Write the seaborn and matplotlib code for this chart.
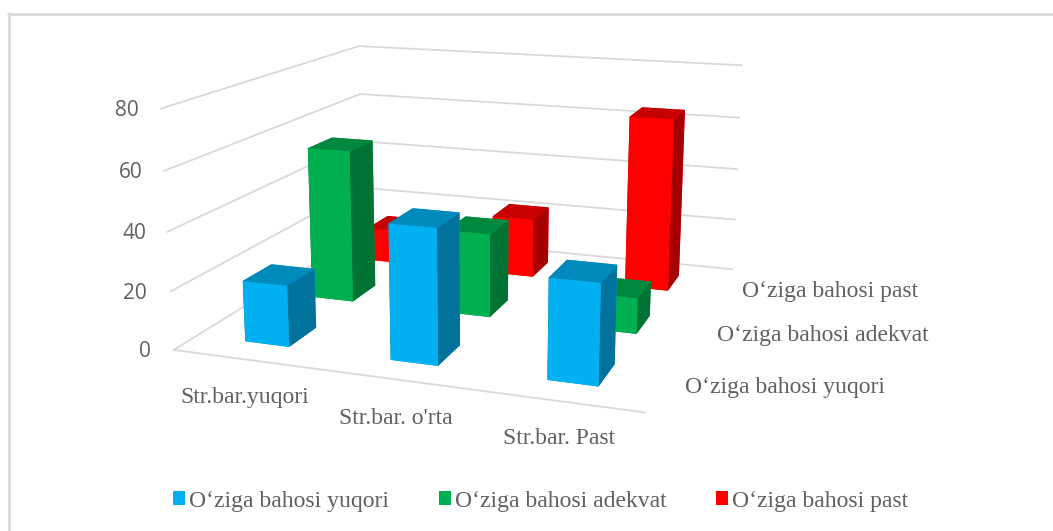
import numpy as np
import matplotlib
matplotlib.use('Agg')
import matplotlib.pyplot as plt
from matplotlib.colors import to_rgb
from matplotlib.lines import Line2D
from matplotlib.patches import Patch
import seaborn as sns

categories = ["Str.bar.yuqori", "Str.bar. o'rta", "Str.bar. Past"]
series = ["O‘ziga bahosi yuqori", "O‘ziga bahosi adekvat", "O‘ziga bahosi past"]
yuqori = [21, 45.3, 33]
adekvat = [55.5, 30, 12.5]
past = [13, 22.5, 64.5]
z_ticks = [0, 20, 40, 60, 80]
colors = ['#00B0F0', '#00B050', '#FF0000']

sns.set_theme(style="white")
grid_color = '#D9D9D9'
text_color = '#606060'
serif = 'Liberation Serif'

W, H = 1053, 531
fig = plt.figure(figsize=(W / 100, H / 100), dpi=100)

# camera values fitted to the corners of the floor and walls
ax = fig.add_axes([147.6 / W, 3.3 / H, 642.6 / W, 642.6 / H], projection='3d', computed_zorder=False)
ax.set_xlim(0, 3)
ax.set_ylim(0, 3)
ax.set_zlim(0, 80)
ax.view_init(elev=14.01, azim=-70.53)
ax.set_proj_type('persp', focal_length=0.4038)
ax.set_box_aspect((1, 0.964, 0.5089))
ax.set_xticks([])
ax.set_yticks([])
ax.set_zticks([])
ax.set_axis_off()

# chart border, only top and left show in the picture
fig.add_artist(Line2D([9 / W, 9 / W], [0, 1 - 13 / H], color=grid_color, lw=2))
fig.add_artist(Line2D([8 / W, 1], [1 - 13.5 / H, 1 - 13.5 / H], color=grid_color, lw=2))

# gridlines on the walls
for z in z_ticks:
    ax.plot([0, 0, 3], [0, 3, 3], [z, z, z], color=grid_color, lw=1.3, zorder=1)
ax.plot([0, 3], [0, 0], [0, 0], color=grid_color, lw=1.3, zorder=1)

# value labels follow the tilt of the left wall
for z, px, py in zip(z_ticks, [151, 147, 146, 143, 139], [351.5, 293.5, 233.5, 172.5, 110.5]):
    fig.text(px / W, 1 - py / H, str(z), ha='right', va='center', fontsize=15, family='Open Sans', color=text_color)

# back row first, left to right, so nearer bars cover the others
vals = [yuqori, adekvat, past]
for j in [2, 1, 0]:
    base = np.array(to_rgb(colors[j]))
    top = base * 0.78
    side = base * 0.65
    face_colors = [base, top, base, base, side, side]
    for i in range(3):
        ax.bar3d(i + 0.5 - 0.155, j + 0.5 - 0.2, 0, 0.31, 0.4, vals[j][i], color=face_colors,
                 shade=False, edgecolor='none', linewidth=0, zorder=10 + (2 - j) * 3 + i)

# axis labels
for name, px, py in zip(categories, [245, 396, 559], [398, 419, 439]):
    fig.text(px / W, 1 - py / H, name, ha='center', va='center', fontsize=17, family=serif, color=text_color)
for name, px, py in zip(series, [785, 823, 830], [387, 336, 291]):
    fig.text(px / W, 1 - py / H, name, ha='center', va='center', fontsize=17, family=serif, color=text_color)

handles = [Patch(facecolor=c, edgecolor='none') for c in colors]
fig.legend(handles, series, loc='center', bbox_to_anchor=(540.5 / W, 1 - 501 / H), ncol=3, frameon=False,
           handlelength=0.51, handleheight=0.51, handletextpad=0.17, columnspacing=2.1,
           prop={'family': serif, 'size': 17}, labelcolor=text_color)

fig.savefig('out.png', dpi=100)
